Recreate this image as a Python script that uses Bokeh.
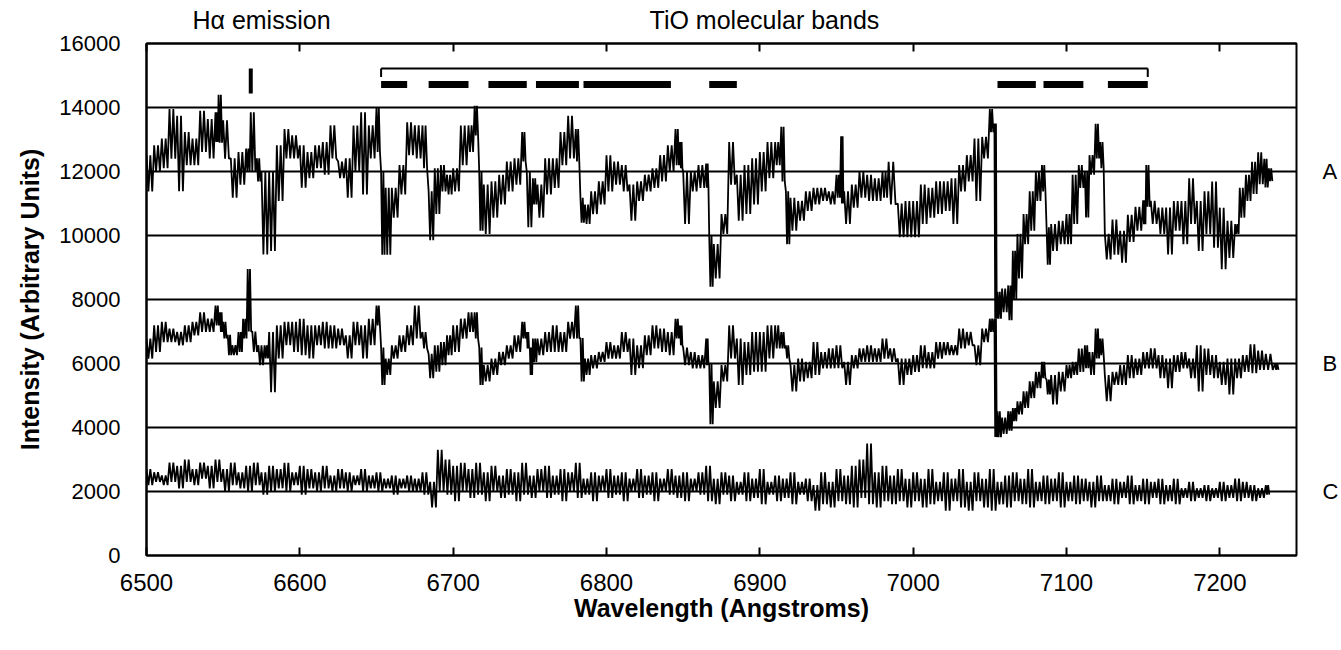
from bokeh.plotting import figure
from bokeh.models import Range1d, LinearAxis, FixedTicker
from bokeh.embed import file_html
from bokeh.resources import INLINE

# ---------------- data ----------------
x_ticks = [6500, 6600, 6700, 6800, 6900, 7000, 7100, 7200]
y_ticks = [0, 2000, 4000, 6000, 8000, 10000, 12000, 14000, 16000]

# spectrum A (wavelength, local high, local low)
a_wl = [6500, 6505, 6510, 6515, 6520, 6525, 6530, 6535, 6540, 6545, 6547, 6550, 6555, 6560, 6565, 6568, 6572, 6575, 6580, 6585,
        6590, 6595, 6600, 6605, 6610, 6615, 6620, 6625, 6630, 6635, 6640, 6645, 6650, 6653, 6656, 6660, 6665, 6670, 6675, 6680,
        6684, 6688, 6692, 6696, 6700, 6705, 6710, 6714, 6717, 6720, 6725, 6730, 6735, 6740, 6745, 6748, 6752, 6755, 6760, 6765,
        6770, 6775, 6780, 6783, 6786, 6790, 6795, 6800, 6805, 6810, 6815, 6820, 6825, 6830, 6835, 6840, 6845, 6848, 6850, 6855,
        6860, 6865, 6867, 6870, 6875, 6880, 6885, 6890, 6895, 6900, 6905, 6910, 6914, 6917, 6920, 6925, 6930, 6935, 6940, 6945,
        6950, 6953, 6955, 6960, 6965, 6970, 6975, 6980, 6984, 6990, 6995, 7000, 7005, 7010, 7015, 7020, 7025, 7030, 7035, 7040,
        7045, 7050, 7053, 7055, 7058, 7062, 7065, 7068, 7072, 7076, 7080, 7084, 7087, 7090, 7095, 7100, 7104, 7108, 7112, 7115,
        7119, 7122, 7125, 7130, 7135, 7140, 7145, 7150, 7152, 7155, 7160, 7165, 7170, 7175, 7180, 7185, 7190, 7195, 7200, 7205,
        7210, 7213, 7217, 7221, 7225, 7229, 7232]
a_hi = [12510, 12820, 13030, 13950, 13740, 13230, 13030, 13900, 13640, 13850, 14400, 13600, 12410, 12610, 12720, 13850, 12410, 12000, 12000, 12820,
        13330, 13130, 12820, 12610, 12820, 12920, 13440, 12310, 12410, 13440, 13850, 13440, 14000, 12000, 11490, 11490, 12200, 13540, 13440, 13440,
        11380, 12100, 12200, 11900, 12100, 13440, 13440, 14050, 12000, 11590, 11690, 11900, 12310, 12410, 13230, 12000, 11790, 11590, 12410, 12410,
        13230, 13740, 13330, 11180, 10970, 11380, 11690, 12510, 12310, 12200, 11590, 11690, 11900, 12100, 12510, 12820, 13330, 12920, 12000, 12000,
        12200, 12250, 10000, 9730, 10670, 12920, 11900, 12200, 12410, 12610, 12920, 12920, 13400, 11380, 11180, 11080, 11380, 11490, 11490, 11380,
        11900, 13100, 11380, 11590, 12000, 11900, 11790, 12000, 12300, 11000, 11080, 11080, 11590, 11490, 11690, 11690, 11790, 12200, 12510, 13030,
        13080, 13950, 13500, 8240, 8340, 8440, 9520, 10050, 10670, 11380, 12000, 12200, 10260, 10360, 10460, 10670, 11900, 12200, 12000, 12510,
        13490, 12920, 10050, 10500, 10150, 10650, 10900, 11100, 12200, 11080, 10870, 10870, 11080, 11080, 11790, 11080, 11380, 11690, 10870, 10460,
        10360, 11490, 11900, 12300, 12600, 12400, 12100]
a_lo = [11380, 12000, 12100, 12400, 11380, 12200, 12200, 12610, 12410, 12920, 12900, 12400, 11180, 11590, 12000, 12000, 11690, 9410, 9520, 11080,
        12410, 12410, 11490, 11790, 12100, 11900, 12410, 11790, 11180, 12000, 11280, 12410, 12610, 9400, 9400, 10560, 11280, 12510, 12410, 12100,
        9850, 10670, 11380, 11280, 11380, 12200, 12610, 13130, 10150, 10050, 10560, 10970, 11380, 11590, 12310, 10260, 10970, 10560, 11280, 11490,
        12200, 12410, 12310, 10400, 10360, 10670, 10970, 11380, 11590, 11380, 10460, 11080, 11380, 11490, 11690, 12000, 12200, 12100, 10360, 11380,
        11490, 11490, 8400, 8660, 10050, 11590, 10460, 10670, 10970, 11380, 11790, 12200, 11690, 9730, 10150, 10460, 10770, 10970, 11080, 10970,
        11180, 11000, 10360, 10870, 11180, 11080, 11080, 11180, 10970, 9950, 9950, 9950, 10360, 10560, 10670, 10770, 10360, 11380, 11690, 11080,
        12410, 13230, 7400, 7400, 7600, 7350, 8020, 8660, 9730, 10150, 11080, 11380, 9090, 9520, 9730, 9730, 10360, 11490, 10560, 11900,
        12410, 12100, 9250, 9400, 9150, 9800, 10150, 10350, 10900, 10360, 10050, 9410, 10150, 9730, 10360, 9520, 10050, 9620, 8950, 9300,
        10050, 10560, 11080, 11300, 11600, 11500, 11700]

# spectrum B
b_wl = [6500, 6505, 6510, 6515, 6520, 6525, 6530, 6535, 6540, 6545, 6548, 6550, 6553, 6556, 6560, 6563, 6566, 6569, 6573, 6577,
        6580, 6585, 6590, 6595, 6600, 6605, 6610, 6615, 6620, 6625, 6630, 6635, 6640, 6645, 6650, 6653, 6656, 6660, 6665, 6670,
        6675, 6680, 6684, 6688, 6692, 6696, 6700, 6705, 6710, 6714, 6717, 6720, 6725, 6730, 6735, 6740, 6745, 6748, 6750, 6752,
        6755, 6760, 6765, 6770, 6775, 6780, 6783, 6786, 6790, 6795, 6800, 6805, 6810, 6815, 6820, 6825, 6830, 6835, 6840, 6845,
        6848, 6850, 6855, 6860, 6865, 6867, 6870, 6875, 6880, 6885, 6890, 6895, 6900, 6905, 6910, 6914, 6917, 6920, 6925, 6930,
        6935, 6940, 6945, 6950, 6955, 6960, 6965, 6970, 6975, 6980, 6985, 6990, 6995, 7000, 7005, 7010, 7015, 7020, 7025, 7030,
        7035, 7040, 7045, 7050, 7053, 7055, 7058, 7062, 7065, 7068, 7072, 7076, 7080, 7084, 7087, 7090, 7095, 7100, 7104, 7108,
        7112, 7115, 7119, 7122, 7125, 7130, 7135, 7140, 7145, 7150, 7155, 7160, 7165, 7170, 7175, 7180, 7185, 7190, 7195, 7200,
        7205, 7210, 7215, 7220, 7225, 7230, 7236]
b_hi = [6780, 7190, 7300, 7090, 6985, 7190, 7300, 7600, 7400, 7810, 7600, 7300, 6900, 6570, 6985, 7400, 8950, 7000, 6570, 6570,
        6985, 7190, 7300, 7300, 7400, 7190, 7190, 7300, 7190, 7090, 6880, 7300, 7190, 7400, 7810, 6500, 6155, 6570, 6880, 7190,
        7810, 6985, 6300, 6570, 6670, 6880, 7190, 7400, 7600, 7600, 6500, 5950, 6155, 6360, 6570, 6880, 7300, 6985, 6500, 6780,
        6780, 6985, 7190, 6985, 7300, 7810, 6800, 6155, 6260, 6360, 6670, 6570, 6985, 6780, 6570, 6880, 7190, 7090, 6985, 7400,
        7190, 6500, 6360, 6260, 6780, 6000, 5440, 5950, 7190, 6780, 6670, 6985, 6985, 7190, 7190, 6985, 6570, 5950, 6155, 6050,
        6670, 6360, 6470, 6570, 6050, 6260, 6470, 6570, 6470, 6780, 6470, 6155, 6155, 6260, 6570, 6360, 6670, 6670, 6570, 7090,
        6985, 6570, 7090, 7400, 7400, 4510, 4310, 4510, 4610, 4820, 5130, 5440, 5740, 6050, 5500, 5640, 5740, 5950, 6050, 6470,
        6570, 6360, 7090, 6780, 5640, 5740, 5950, 6260, 6155, 6360, 6470, 6260, 6155, 6260, 6360, 6155, 6570, 6470, 6260, 6050,
        6155, 6155, 6260, 6600, 6400, 6300, 6000]
b_lo = [6155, 6360, 6670, 6670, 6570, 6670, 6880, 6985, 6985, 7190, 6985, 6780, 6260, 6260, 6360, 6780, 7000, 6360, 5950, 6155,
        5100, 6155, 6570, 6360, 6260, 6155, 6570, 6470, 6470, 6570, 6155, 6570, 6155, 6570, 7190, 5330, 5640, 6155, 6360, 6570,
        6780, 6470, 5540, 5740, 5950, 6260, 6360, 6780, 6985, 6780, 5330, 5440, 5640, 5950, 6155, 6360, 6780, 6470, 5640, 6050,
        6260, 6360, 6360, 6360, 6780, 6780, 5440, 5640, 5850, 6050, 6155, 6155, 6360, 5640, 5850, 6260, 6470, 6360, 6260, 6780,
        6570, 5950, 5850, 5850, 5950, 4100, 4610, 5440, 6155, 5330, 5640, 5740, 5740, 6155, 6470, 6470, 6155, 5130, 5440, 5540,
        5640, 5850, 5850, 5850, 5330, 5850, 6050, 6050, 6050, 6155, 6050, 5330, 5640, 5740, 5850, 5850, 6155, 6260, 6260, 6470,
        6570, 5950, 6670, 6985, 3700, 3700, 3800, 3900, 4200, 4410, 4610, 4920, 5230, 5540, 5030, 4720, 5130, 5540, 5640, 5740,
        5850, 5640, 6155, 6260, 4820, 5330, 5330, 5540, 5640, 5850, 5850, 5540, 5230, 5740, 5850, 5540, 5130, 5640, 5540, 5330,
        5030, 5540, 5740, 5700, 5800, 5800, 5800]

# spectrum C
c_wl = [6500, 6505, 6510, 6515, 6520, 6525, 6530, 6535, 6540, 6545, 6550, 6555, 6560, 6565, 6570, 6575, 6580, 6585, 6590, 6595,
        6600, 6605, 6610, 6615, 6620, 6625, 6630, 6635, 6640, 6645, 6650, 6655, 6660, 6665, 6670, 6675, 6680, 6685, 6690, 6695,
        6700, 6705, 6710, 6715, 6720, 6725, 6730, 6735, 6740, 6745, 6750, 6755, 6760, 6765, 6770, 6775, 6780, 6785, 6790, 6795,
        6800, 6805, 6810, 6815, 6820, 6825, 6830, 6835, 6840, 6845, 6850, 6855, 6860, 6865, 6870, 6875, 6880, 6885, 6890, 6895,
        6900, 6905, 6910, 6915, 6920, 6925, 6930, 6935, 6940, 6945, 6950, 6955, 6960, 6965, 6970, 6975, 6980, 6985, 6990, 6995,
        7000, 7005, 7010, 7015, 7020, 7025, 7030, 7035, 7040, 7045, 7050, 7055, 7060, 7065, 7070, 7075, 7080, 7085, 7090, 7095,
        7100, 7105, 7110, 7115, 7120, 7125, 7130, 7135, 7140, 7145, 7150, 7155, 7160, 7165, 7170, 7175, 7180, 7185, 7190, 7195,
        7200, 7205, 7210, 7215, 7220, 7225, 7230]
c_hi = [2700, 2600, 2500, 2900, 2800, 3000, 2700, 2900, 2800, 3000, 2700, 2900, 2600, 2800, 2900, 2600, 2800, 2700, 2900, 2600,
        2800, 2700, 2600, 2800, 2500, 2700, 2600, 2500, 2700, 2500, 2600, 2400, 2500, 2400, 2500, 2400, 2600, 2300, 3300, 3000,
        2800, 2900, 2700, 2900, 2600, 2800, 2500, 2700, 2600, 2900, 2500, 2700, 2800, 2500, 2700, 2600, 2900, 2400, 2600, 2500,
        2700, 2500, 2600, 2400, 2700, 2500, 2600, 2400, 2700, 2500, 2600, 2400, 2600, 2800, 2400, 2600, 2500, 2300, 2600, 2400,
        2700, 2300, 2500, 2400, 2600, 2300, 2400, 2200, 2600, 2300, 2700, 2500, 2800, 3000, 3500, 2600, 2800, 2500, 2700, 2400,
        2600, 2400, 2700, 2300, 2600, 2400, 2700, 2300, 2600, 2400, 2700, 2300, 2500, 2600, 2400, 2700, 2300, 2500, 2400, 2600,
        2300, 2500, 2400, 2300, 2500, 2200, 2400, 2300, 2500, 2200, 2400, 2300, 2400, 2200, 2400, 2100, 2300, 2100, 2200, 2100,
        2300, 2200, 2400, 2300, 2200, 2100, 2200]
c_lo = [2200, 2300, 2200, 2300, 2100, 2300, 2200, 2400, 2100, 2300, 2000, 2200, 2100, 2000, 2200, 1900, 2000, 2100, 2000, 2200,
        1900, 2100, 2000, 2100, 2000, 2100, 2000, 2200, 2000, 2100, 2000, 2100, 1900, 2100, 2000, 2000, 1900, 1500, 2000, 1900,
        1700, 2000, 1800, 1900, 1700, 2000, 1800, 1900, 1700, 1900, 1800, 2000, 1800, 1900, 1700, 2000, 1800, 1900, 1700, 2000,
        1800, 1900, 1700, 2000, 1800, 1900, 1700, 2000, 1900, 1800, 1700, 2000, 1900, 1700, 1600, 1900, 1700, 1900, 1700, 1800,
        1600, 1900, 1700, 1800, 1600, 1900, 1700, 1400, 1600, 1500, 1700, 1600, 1500, 1800, 1600, 1500, 1700, 1600, 1700, 1500,
        1700, 1500, 1600, 1700, 1400, 1700, 1500, 1400, 1700, 1500, 1400, 1600, 1500, 1700, 1600, 1500, 1700, 1600, 1700, 1500,
        1700, 1600, 1700, 1500, 1700, 1700, 1600, 1800, 1600, 1700, 1600, 1800, 1600, 1700, 1600, 1800, 1700, 1800, 1700, 1800,
        1700, 1800, 1700, 1800, 1700, 1800, 1900]

series_names = ["A", "B", "C"]
series_levels = [12000, 6000, 2000]

# annotations (wavelengths)
top_texts = ["H\u03b1 emission", "TiO molecular bands"]
top_text_wl = [6575, 6903]
halpha_wl = 6568
tio_start = [6653, 6684, 6723, 6754, 6785, 6867, 7055, 7085, 7127]
tio_end = [6670, 6710, 6748, 6782, 6842, 6885, 7080, 7111, 7153]

# ---------------- figure ----------------
FONT = "Liberation Sans"

p = figure(frame_width=1150, frame_height=512,
           x_range=Range1d(6500, 7250), y_range=Range1d(0, 16000),
           output_backend="svg", toolbar_location=None,
           min_border_left=146, min_border_top=43, min_border_right=45, min_border_bottom=8,
           background_fill_color="white", border_fill_color="white")

p.outline_line_color = "black"
p.outline_line_width = 2

p.xgrid.visible = False
p.ygrid.ticker = FixedTicker(ticks=y_ticks)
p.ygrid.grid_line_color = "black"
p.ygrid.grid_line_width = 2
p.ygrid.grid_line_alpha = 1.0

xa = p.xaxis[0]
xa.ticker = FixedTicker(ticks=x_ticks)
xa.major_tick_in = 8
xa.major_tick_out = 0
xa.minor_tick_line_color = None
xa.major_tick_line_width = 2
xa.axis_line_color = "black"
xa.axis_line_width = 2
xa.major_label_standoff = 18
xa.major_label_text_font = FONT
xa.major_label_text_font_size = "24px"
xa.major_label_text_color = "black"
xa.axis_label = "Wavelength (Angstroms)"
xa.axis_label_text_font = FONT
xa.axis_label_text_font_style = "bold"
xa.axis_label_text_font_size = "25px"
xa.axis_label_text_color = "black"
xa.axis_label_standoff = 0

ya = p.yaxis[0]
ya.ticker = FixedTicker(ticks=y_ticks)
ya.major_tick_in = 0
ya.major_tick_out = 0
ya.minor_tick_line_color = None
ya.axis_line_color = "black"
ya.axis_line_width = 2
ya.major_label_standoff = 26
ya.major_label_text_font = FONT
ya.major_label_text_font_size = "22px"
ya.major_label_text_color = "black"
ya.axis_label = "Intensity (Arbitrary Units)"
ya.axis_label_text_font = FONT
ya.axis_label_text_font_style = "bold"
ya.axis_label_text_font_size = "25px"
ya.axis_label_text_color = "black"
ya.axis_label_standoff = 12

# top axis: inside tick marks (as minor ticks) and the two annotation texts
top = LinearAxis(ticker=FixedTicker(ticks=top_text_wl, minor_ticks=x_ticks),
                 major_label_overrides={w: t for w, t in zip(top_text_wl, top_texts)})
top.major_tick_line_color = None
top.major_tick_in = 0
top.major_tick_out = 0
top.minor_tick_in = 8
top.minor_tick_out = 0
top.minor_tick_line_width = 2
top.minor_tick_line_color = "black"
top.major_label_standoff = 10
top.major_label_text_font = FONT
top.major_label_text_font_size = "25px"
top.major_label_text_color = "black"
top.axis_line_color = "black"
top.axis_line_width = 2
p.add_layout(top, "above")

# right axis: series names
right = LinearAxis(ticker=FixedTicker(ticks=series_levels),
                   major_label_overrides={v: n for v, n in zip(series_levels, series_names)})
right.major_tick_in = 0
right.major_tick_out = 0
right.minor_tick_line_color = None
right.axis_line_color = None
right.major_label_standoff = 26
right.major_label_text_font = FONT
right.major_label_text_font_size = "22px"
right.major_label_text_color = "black"
p.add_layout(right, "right")


def dense_trace(wl, hi, lo):
    # each reading spans one sampling step; the trace swings hi/lo twice within it
    xs, ys = [], []
    n = len(wl)
    for i in range(n):
        step = (wl[i + 1] - wl[i]) if i + 1 < n else 3
        for k, v in enumerate([hi[i], lo[i], hi[i], lo[i]]):
            xs.append(wl[i] + step * k / 4.0)
            ys.append(v)
    return xs, ys


for wl, hi, lo in [(a_wl, a_hi, a_lo), (b_wl, b_hi, b_lo), (c_wl, c_hi, c_lo)]:
    xs, ys = dense_trace(wl, hi, lo)
    p.line(xs, ys, line_color="black", line_width=1.8)

# H-alpha marker
p.segment(x0=[halpha_wl], y0=[14440], x1=[halpha_wl], y1=[15220], line_color="black", line_width=4)

# TiO bracket and bands
p.segment(x0=[tio_start[0]], y0=[15220], x1=[tio_end[-1]], y1=[15220], line_color="black", line_width=2)
p.segment(x0=[tio_start[0], tio_end[-1]], y0=[15220, 15220], x1=[tio_start[0], tio_end[-1]], y1=[14950, 14950],
          line_color="black", line_width=2)
p.segment(x0=tio_start, y0=[14720] * len(tio_start), x1=tio_end, y1=[14720] * len(tio_end),
          line_color="black", line_width=7, line_cap="butt")

open("out.html", "w").write(file_html(p, INLINE))
